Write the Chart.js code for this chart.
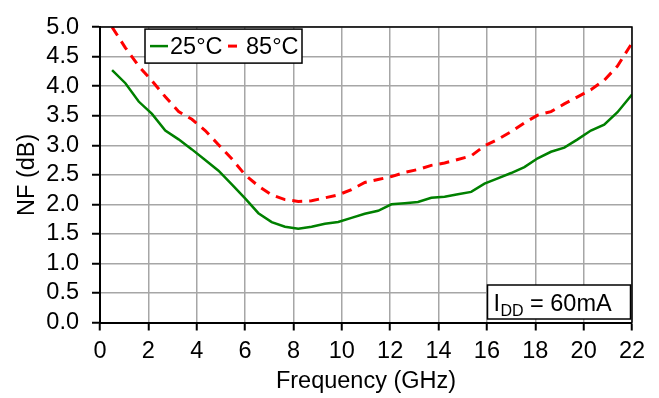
<!DOCTYPE html>
<html>
<head>
<meta charset="utf-8">
<script src="https://cdn.jsdelivr.net/npm/chart.js@4.4.0/dist/chart.umd.min.js"></script>
<style>
  html, body { margin: 0; padding: 0; background: #fff; }
  #wrap { width: 659px; height: 398px; }
</style>
</head>
<body>
<div id="wrap"><canvas id="nf" width="659" height="398"></canvas></div>
<script>
const freqGHz = [0.5, 1.05, 1.6, 2.15, 2.7, 3.25, 3.8, 4.35, 4.9, 5.45, 6.0, 6.55, 7.1, 7.65, 8.2, 8.75, 9.3, 9.85, 10.4, 10.95,
  11.5, 12.05, 12.6, 13.15, 13.7, 14.25, 14.8, 15.35, 15.9, 16.45, 17.0, 17.55, 18.1, 18.65, 19.2, 19.75, 20.3, 20.85, 21.4, 22.0];
const nf25 = [4.27, 4.05, 3.74, 3.53, 3.25, 3.10, 2.93, 2.75, 2.57, 2.34, 2.10, 1.85, 1.70, 1.62, 1.585, 1.62, 1.67, 1.70, 1.77, 1.84,
  1.89, 2.00, 2.02, 2.04, 2.11, 2.13, 2.17, 2.21, 2.35, 2.44, 2.53, 2.63, 2.78, 2.89, 2.96, 3.10, 3.25, 3.35, 3.56, 3.86];
const nf85 = [5.0, 4.65, 4.34, 4.09, 3.82, 3.57, 3.44, 3.25, 3.01, 2.77, 2.50, 2.31, 2.16, 2.08, 2.05, 2.06, 2.11, 2.16, 2.25, 2.37,
  2.42, 2.47, 2.54, 2.59, 2.66, 2.70, 2.76, 2.82, 2.99, 3.10, 3.23, 3.38, 3.51, 3.57, 3.70, 3.82, 3.94, 4.10, 4.34, 4.73];
const seriesLabels = ["25°C", "85°C"];
const xTitle = "Frequency (GHz)";
const yTitle = "NF (dB)";

const FONT = "'Liberation Sans', Arial, sans-serif";
const FS = 23.5;
const pts = (ys) => freqGHz.map((f, i) => ({ x: f, y: ys[i] }));

// frame, legend box and the IDD note
const extras = {
  id: "extras",
  afterDraw(chart) {
    const { ctx, chartArea: a } = chart;
    ctx.save();
    ctx.strokeStyle = "#000";
    ctx.lineWidth = 1.5;
    ctx.beginPath();
    ctx.moveTo(a.left, a.top);
    ctx.lineTo(a.right, a.top);
    ctx.lineTo(a.right, a.bottom);
    ctx.stroke();

    // legend
    const lx = a.left + 45, ly = a.top + 2, lw = 157, lh = 34;
    ctx.fillStyle = "#fff";
    ctx.fillRect(lx, ly, lw, lh);
    ctx.lineWidth = 1.5;
    ctx.strokeRect(lx, ly, lw, lh);
    const cy = ly + lh / 2;
    const ds = chart.data.datasets;
    ctx.font = FS + "px " + FONT;
    ctx.textBaseline = "middle";
    ctx.fillStyle = "#000";

    ctx.strokeStyle = ds[0].borderColor;
    ctx.lineWidth = ds[0].borderWidth;
    ctx.beginPath(); ctx.moveTo(lx + 5, cy); ctx.lineTo(lx + 23, cy); ctx.stroke();
    ctx.fillText(ds[0].label, lx + 25, cy + 1);

    ctx.strokeStyle = ds[1].borderColor;
    ctx.lineWidth = ds[1].borderWidth;
    ctx.beginPath(); ctx.moveTo(lx + 83, cy); ctx.lineTo(lx + 92, cy); ctx.stroke();
    ctx.fillText(ds[1].label, lx + 101, cy + 1);

    // IDD box
    const bw = 143, bh = 34;
    const bx = a.right - 1.5 - bw, by = a.bottom - 3.5 - bh;
    ctx.fillStyle = "#fff";
    ctx.fillRect(bx, by, bw, bh);
    ctx.strokeStyle = "#000";
    ctx.lineWidth = 1.5;
    ctx.strokeRect(bx, by, bw, bh);
    ctx.fillStyle = "#000";
    ctx.textBaseline = "alphabetic";
    ctx.font = FS + "px " + FONT;
    ctx.fillText("I", bx + 6, by + 26);
    ctx.font = "16px " + FONT;
    ctx.fillText("DD", bx + 13, by + 31);
    ctx.font = FS + "px " + FONT;
    ctx.fillText(" = 60mA", bx + 36, by + 26);
    ctx.restore();
  }
};

new Chart(document.getElementById("nf"), {
  type: "line",
  data: {
    datasets: [
      { label: seriesLabels[0], data: pts(nf25), borderColor: "#008000", borderWidth: 2.5, pointRadius: 0, tension: 0, fill: false },
      { label: seriesLabels[1], data: pts(nf85), borderColor: "#ff0000", borderWidth: 3, borderDash: [10, 7], pointRadius: 0, tension: 0, fill: false }
    ]
  },
  options: {
    responsive: false,
    animation: false,
    layout: { padding: { top: 17, right: 27, bottom: 0, left: 0 } },
    plugins: { legend: { display: false }, tooltip: { enabled: false } },
    scales: {
      x: {
        type: "linear", min: 0, max: 22,
        ticks: { stepSize: 2, autoSkip: false, color: "#000", font: { family: FONT, size: FS }, padding: 7, maxRotation: 0 },
        grid: { color: "#a6a6a6", lineWidth: 1.5, tickColor: "#000", tickWidth: 2, tickLength: 8 },
        border: { color: "#000", width: 2 },
        title: { display: true, text: xTitle, color: "#000", font: { family: FONT, size: FS }, padding: { top: 0, bottom: 2.5 } },
        afterFit: (s) => { s.height = 75.5; }
      },
      y: {
        min: 0, max: 5,
        ticks: { stepSize: 0.5, autoSkip: false, color: "#000", font: { family: FONT, size: FS }, padding: 13, callback: (v) => v.toFixed(1) },
        grid: { color: "#a6a6a6", lineWidth: 1.5, tickColor: "#000", tickWidth: 2, tickLength: 8 },
        border: { color: "#000", width: 2 },
        title: { display: true, text: yTitle, color: "#000", font: { family: FONT, size: FS }, padding: { top: 13, bottom: 0 } },
        afterFit: (s) => { s.width = 100; }
      }
    }
  },
  plugins: [extras]
});
</script>
</body>
</html>
